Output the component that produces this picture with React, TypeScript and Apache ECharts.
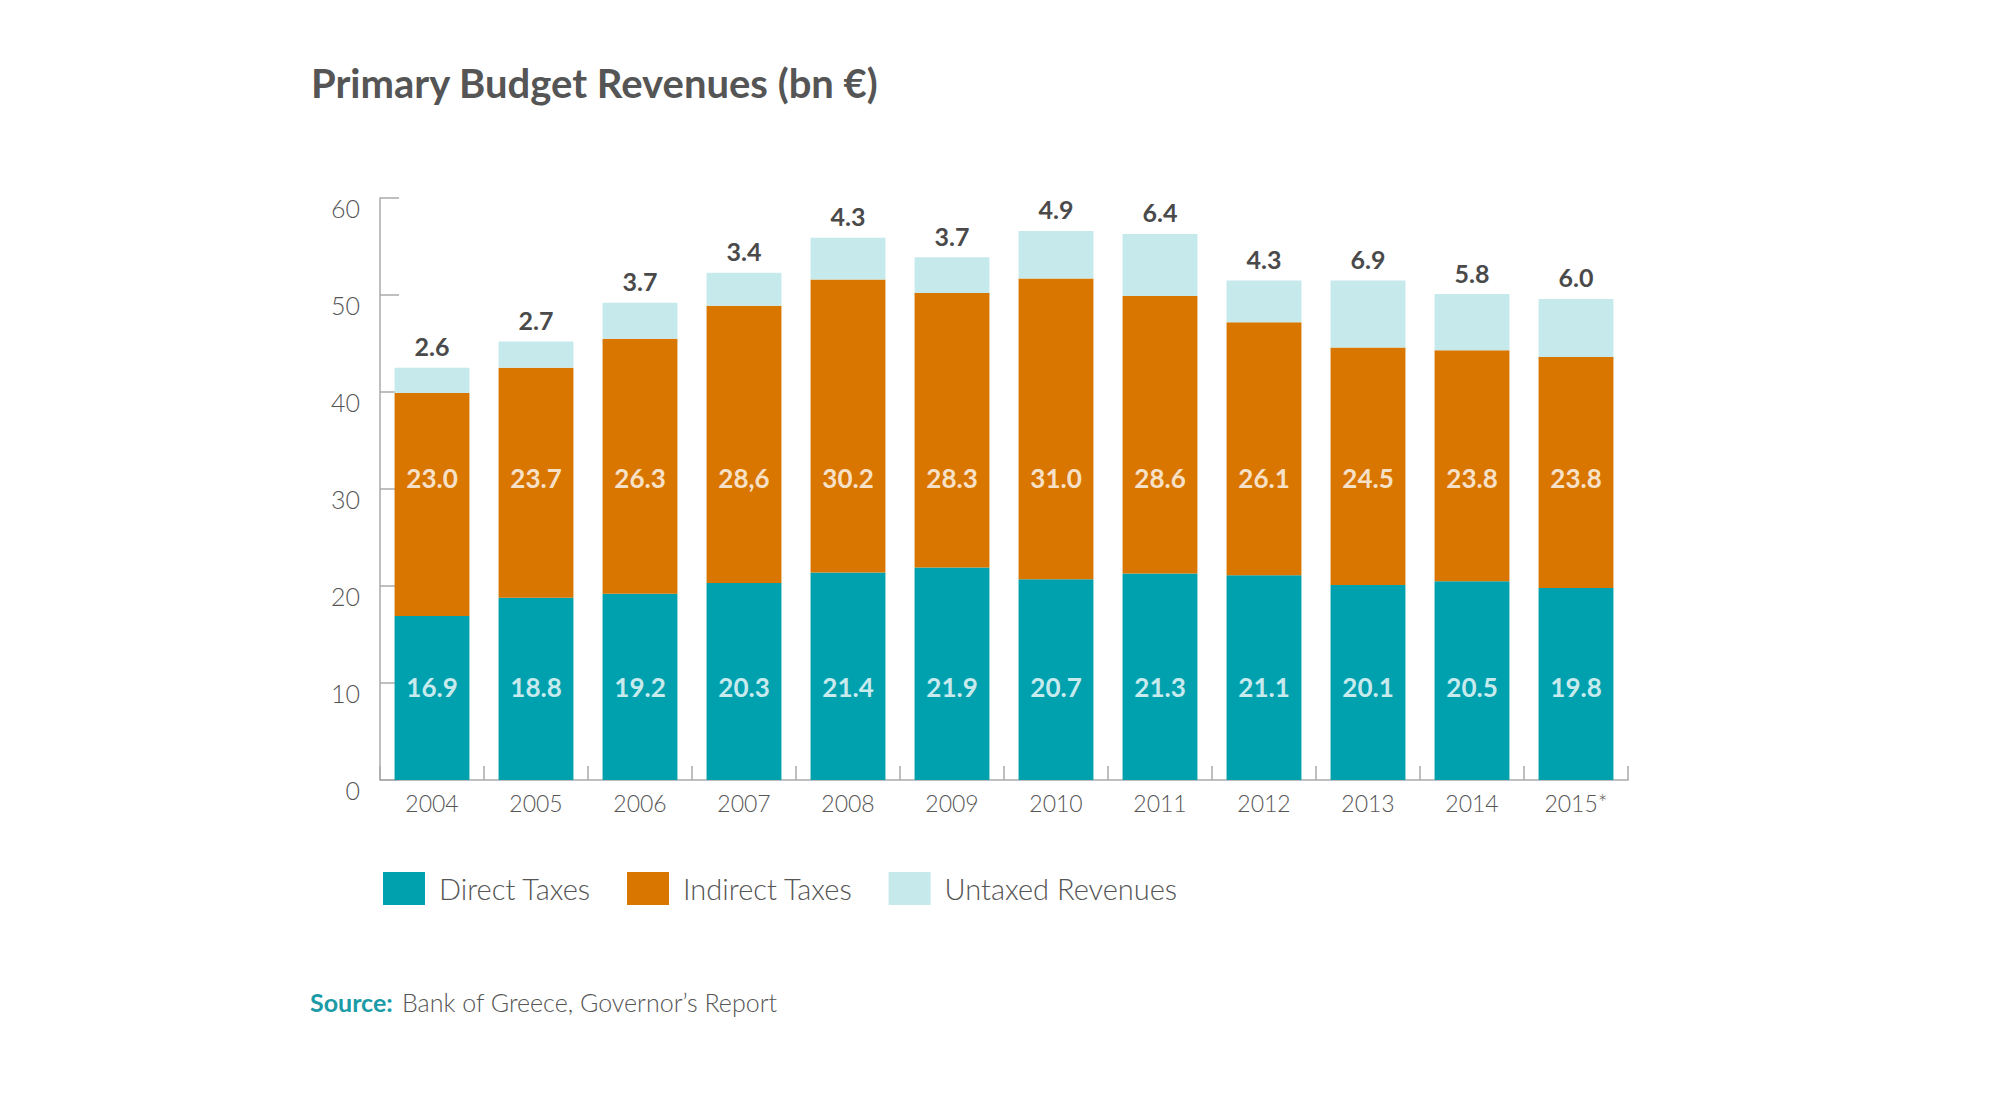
import React, { useEffect, useRef } from 'react';
import * as echarts from 'echarts';

const years = ['2004', '2005', '2006', '2007', '2008', '2009', '2010', '2011', '2012', '2013', '2014', '2015*'];
const directTaxes = [16.9, 18.8, 19.2, 20.3, 21.4, 21.9, 20.7, 21.3, 21.1, 20.1, 20.5, 19.8];
const indirectTaxes = [23.0, 23.7, 26.3, 28.6, 30.2, 28.3, 31.0, 28.6, 26.1, 24.5, 23.8, 23.8];
const untaxedRevenues = [2.6, 2.7, 3.7, 3.4, 4.3, 3.7, 4.9, 6.4, 4.3, 6.9, 5.8, 6.0];
const directLabelText = ['16.9', '18.8', '19.2', '20.3', '21.4', '21.9', '20.7', '21.3', '21.1', '20.1', '20.5', '19.8'];
const indirectLabelText = ['23.0', '23.7', '26.3', '28,6', '30.2', '28.3', '31.0', '28.6', '26.1', '24.5', '23.8', '23.8'];
const seriesNames = ['Direct Taxes', 'Indirect Taxes', 'Untaxed Revenues'];

const TEAL = '#00A1AF';
const ORANGE = '#D97600';
const LIGHT = '#C6E9EC';
const FONT = 'Lato, "Open Sans", sans-serif';

// label levels (in axis units) at which the in-bar values are centred
const DIRECT_LABEL_LEVEL = 9.6;
const INDIRECT_LABEL_LEVEL = 31.1;

export default function App() {
  const ref = useRef<HTMLDivElement>(null);
  useEffect(() => {
    const chart = echarts.init(ref.current!, null, { renderer: 'svg' });
    const inBarLabel = {
      show: true,
      position: 'inside',
      color: '#ffffff',
      fontFamily: FONT,
      fontWeight: 'bold',
      fontSize: 26,
    };
    chart.setOption({
      animation: false,
      backgroundColor: '#ffffff',
      title: {
        text: 'Primary Budget Revenues (bn €)',
        left: 306,
        top: 58,
        textStyle: { fontFamily: FONT, fontWeight: 'bold', fontSize: 40, color: '#555555' },
      },
      legend: {
        data: seriesNames,
        left: 378,
        top: 867,
        icon: 'rect',
        itemWidth: 42,
        itemHeight: 33,
        itemGap: 36,
        textStyle: { fontFamily: FONT, fontWeight: 300, fontSize: 29, color: '#555555', padding: [0, 0, 0, 9] },
      },
      grid: { left: 380, right: 372, top: 198, bottom: 337, containLabel: false },
      xAxis: {
        type: 'category',
        data: years,
        axisLine: { show: true, lineStyle: { color: '#aaaaaa', width: 1.5 } },
        axisTick: { show: true, inside: true, length: 14, lineStyle: { color: '#aaaaaa', width: 1.5 } },
        axisLabel: { fontFamily: FONT, fontWeight: 300, fontSize: 23, color: '#555555', margin: 11 },
        splitLine: { show: false },
      },
      yAxis: {
        type: 'value',
        min: 0,
        max: 60,
        interval: 10,
        axisLine: { show: true, lineStyle: { color: '#aaaaaa', width: 1.5 } },
        axisTick: { show: true, inside: true, length: 19, lineStyle: { color: '#aaaaaa', width: 1.5 } },
        axisLabel: {
          fontFamily: FONT,
          fontWeight: 300,
          fontSize: 25,
          color: '#555555',
          margin: 20,
          verticalAlign: 'top',
          lineHeight: 20,
        },
        splitLine: { show: false },
      },
      series: [
        {
          name: seriesNames[0],
          type: 'bar',
          stack: 'total',
          data: directTaxes,
          barCategoryGap: '28%',
          itemStyle: { color: TEAL },
        },
        {
          name: seriesNames[1],
          type: 'bar',
          stack: 'total',
          data: indirectTaxes,
          barCategoryGap: '28%',
          itemStyle: { color: ORANGE },
        },
        {
          name: seriesNames[2],
          type: 'bar',
          stack: 'total',
          data: untaxedRevenues,
          barCategoryGap: '28%',
          itemStyle: { color: LIGHT },
          label: {
            show: true,
            position: 'top',
            distance: 9,
            color: '#4a4a4a',
            fontFamily: FONT,
            fontWeight: 'bold',
            fontSize: 25,
            formatter: (p: any) => Number(p.value).toFixed(1),
          },
        },
        {
          name: 'directLabels',
          type: 'scatter',
          symbolSize: 0,
          z: 10,
          silent: true,
          data: years.map((y) => [y, DIRECT_LABEL_LEVEL]),
          label: { ...inBarLabel, formatter: (p: any) => directLabelText[p.dataIndex] },
        },
        {
          name: 'indirectLabels',
          type: 'scatter',
          symbolSize: 0,
          z: 10,
          silent: true,
          data: years.map((y) => [y, INDIRECT_LABEL_LEVEL]),
          label: { ...inBarLabel, formatter: (p: any) => indirectLabelText[p.dataIndex] },
        },
      ],
      graphic: [
        {
          type: 'text',
          left: 310,
          top: 989,
          style: {
            text: '{b|Source:} {r|Bank of Greece, Governor’s Report}',
            rich: {
              b: { fontFamily: FONT, fontWeight: 'bold', fontSize: 25, fill: '#1A9BA6', color: '#1A9BA6', padding: [0, 6, 0, 0] },
              r: { fontFamily: FONT, fontWeight: 300, fontSize: 25, fill: '#555555', color: '#555555' },
            },
          },
        },
      ],
    });
    return () => chart.dispose();
  }, []);
  return (
    <div
      ref={ref}
      style={{ position: 'fixed', left: 0, top: 0, width: 2000, height: 1117, background: '#ffffff' }}
    />
  );
}
